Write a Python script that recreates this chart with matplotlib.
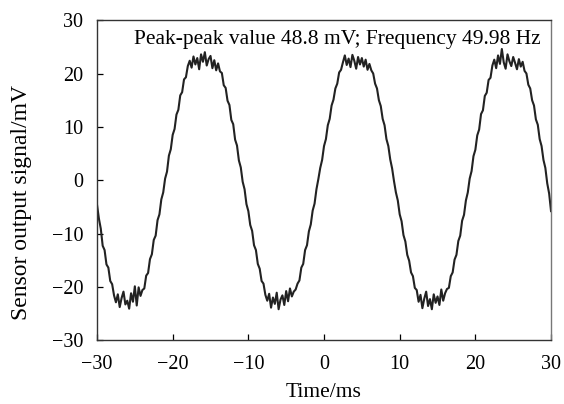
import numpy as np
import matplotlib
matplotlib.use("Agg")
import matplotlib.pyplot as plt

plt.rcParams["font.family"] = ["Liberation Serif", "DejaVu Serif"]

# sensor output, one sample every 0.25 ms from -30 ms to 30 ms
signal = [
    # first trough
    -4.6, -7.2, -9.1, -12.3, -13.1, -15.8, -16.4, -18.9, -19.5, -21.6,
    -22.9, -21.4, -23.8, -22.1, -20.9, -23.3, -22.6, -24.1, -21.2, -22.8, -19.9, -23.5, -20.1, -21.7,
    -20.6, -20.3, -17.9, -17.4, -14.8, -13.9, -11.2, -10.4, -7.5, -6.4, -3.6, -2.3,
    0.3,
    # first peak
    1.6, 4.6, 5.8, 8.5, 9.6, 12.3, 13.2, 15.9, 16.5, 18.9, 19.3, 21.4,
    22.4, 21.1, 23.2, 21.7, 22.9, 20.8, 23.6, 22.2, 24.0, 21.5, 22.7, 23.3, 21.0, 22.5, 20.6, 21.9,
    20.4, 20.1, 17.8, 17.3, 14.9, 14.1, 11.3, 10.5, 7.6, 6.5, 3.7, 2.4,
    -0.3,
    # second trough
    -1.7, -4.5, -5.8, -8.4, -9.5, -12.2, -13.1, -15.7, -16.6, -18.9, -19.4, -21.5,
    -22.6, -21.3, -23.9, -22.0, -23.2, -21.1, -24.2, -22.4, -21.6, -23.4, -20.8, -22.7, -20.3, -21.8, -20.9,
    -20.5, -19.4, -18.8, -16.4, -15.7, -13.1, -12.2, -9.6, -8.3, -5.7, -4.4, -1.7,
    0.2,
    # second peak
    2.3, 3.8, 6.4, 7.7, 10.3, 11.5, 14.0, 15.1, 17.2, 18.1, 20.2, 20.7,
    22.1, 23.4, 21.6, 22.8, 21.2, 23.5, 22.4, 20.9, 23.1, 21.7, 22.9, 21.3, 22.6, 20.7, 21.8,
    20.6, 20.0, 18.1, 17.2, 15.0, 13.9, 11.5, 10.3, 7.7, 6.4, 3.9, 2.2,
    -0.2,
    # third trough
    -2.3, -3.8, -6.4, -7.7, -10.3, -11.5, -14.0, -15.1, -17.3, -18.0, -20.2, -20.6,
    -22.8, -21.5, -24.0, -22.2, -20.9, -23.6, -22.3, -24.2, -21.4, -23.0, -21.8, -23.4, -20.5, -22.6, -21.2,
    -20.4, -20.2, -18.0, -17.3, -14.9, -14.0, -11.4, -10.4, -7.6, -6.5, -3.8, -2.3,
    0.3,
    # third peak
    1.7, 4.5, 5.7, 8.4, 9.5, 12.4, 13.1, 15.8, 16.4, 18.8, 19.2, 21.5,
    22.6, 21.0, 23.4, 21.8, 24.6, 22.1, 20.9, 23.6, 22.3, 21.4, 23.1, 22.0, 20.8, 22.7, 21.3, 22.2,
    20.5, 20.0, 17.9, 17.2, 15.0, 14.0, 11.4, 10.4, 7.7, 6.4, 3.8, 2.3,
    -0.6,
    -2.5, -5.8,
]
time_ms = np.linspace(-30, 30, len(signal))

x_ticks = [-30, -20, -10, 0, 10, 20, 30]
y_ticks = [-30, -20, -10, 0, 10, 20, 30]
note = "Peak-peak value 48.8 mV; Frequency 49.98 Hz"

fig = plt.figure(figsize=(5.64, 4.04), dpi=100)
ax = fig.add_axes([0.172, 0.158, 0.805, 0.792])

ax.plot(time_ms, signal, color="#222222", lw=1.5)

ax.set_xlim(-30, 30)
ax.set_ylim(-30, 30)
ax.set_xticks(x_ticks)
ax.set_yticks(y_ticks)
ax.tick_params(direction="in", length=4, width=0.9, labelsize=14.5,
               top=False, right=False)
ax.tick_params(axis="x", pad=11)
ax.tick_params(axis="y", pad=10)
for s in ax.spines.values():
    s.set_linewidth(1.0)
    s.set_color("#333333")
ax.spines["right"].set_color("#777777")

ax.set_xlabel("Time/ms", fontsize=15.5, labelpad=6)
ax.set_ylabel("Sensor output signal/mV", fontsize=17)
ax.yaxis.set_label_coords(-0.143, 0.43)

ax.text(0.976, 0.97, note, transform=ax.transAxes, ha="right", va="top",
        fontsize=15.5)

fig.savefig("out.png", dpi=100)
